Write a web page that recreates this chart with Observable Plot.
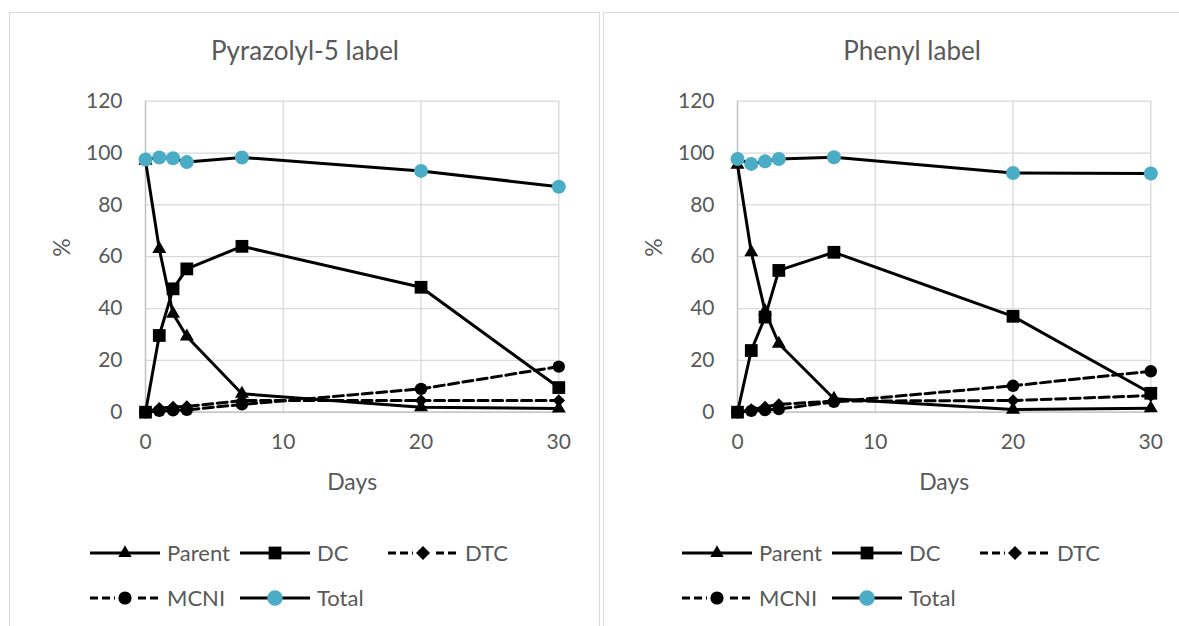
<!DOCTYPE html>
<html>
<head>
<meta charset="utf-8">
<script src="https://cdn.jsdelivr.net/npm/d3@7"></script>
<script src="https://cdn.jsdelivr.net/npm/@observablehq/plot@0.6"></script>
<style>
  html, body { margin: 0; padding: 0; background: #fff; }
  body { width: 1179px; height: 626px; position: relative; overflow: hidden; font-family: Lato, "Open Sans", sans-serif; color: #595959; }
  .panel { position: absolute; top: 12px; height: 700px; border: 1px solid #d9d9d9; box-sizing: border-box; }
  .title { position: absolute; top: 33px; font-size: 26px; line-height: 34px; white-space: nowrap; transform: translateX(-50%); color: #595959; }
  .plot { position: absolute; top: 80px; }
  .leg { position: absolute; display: flex; align-items: center; font-size: 22px; line-height: 24px; color: #595959; }
  .leg svg { display: block; margin-right: 7px; overflow: visible; }
</style>
</head>
<body>
<script>
// ---- data ----
const days = [0, 1, 2, 3, 7, 20, 30];
const seriesNames = ["Parent", "DC", "DTC", "MCNI", "Total"];
const xTicks = [0, 10, 20, 30];
const yTicks = [0, 20, 40, 60, 80, 100, 120];

const pyrParent = [97, 63, 38, 29.2, 7.1, 1.9, 1.4];
const pyrDC     = [0, 29.6, 47.6, 55.3, 64.0, 48.2, 9.5];
const pyrDTC    = [0, 1.5, 2.0, 2.2, 4.5, 4.5, 4.5];
const pyrMCNI   = [0, 0.5, 0.7, 0.9, 3.0, 9.0, 17.6];
const pyrTotal  = [97.5, 98.3, 98.0, 96.5, 98.3, 93.1, 87.0];

const phParent = [95.5, 61.7, 39, 26.4, 5.2, 1.0, 1.5];
const phDC     = [0, 23.8, 36.7, 54.7, 61.7, 37.0, 7.3];
const phDTC    = [0, 1.0, 2.0, 3.0, 4.3, 4.5, 6.4];
const phMCNI   = [0, 0.5, 0.8, 1.2, 4.0, 10.2, 15.8];
const phTotal  = [97.7, 95.8, 96.8, 97.7, 98.4, 92.3, 92.1];

const panels = [
  {title: "Pyrazolyl-5 label", titleX: 305, left: 0, values: [pyrParent, pyrDC, pyrDTC, pyrMCNI, pyrTotal]},
  {title: "Phenyl label", titleX: 912, left: 592, values: [phParent, phDC, phDTC, phMCNI, phTotal]}
];

// ---- styles ----
const totalColor = "#4bacc6";
const diamond = {
  draw(context, size) {
    const h = Math.sqrt(size / 2);
    context.moveTo(0, -h); context.lineTo(h, 0); context.lineTo(0, h); context.lineTo(-h, 0); context.closePath();
  }
};
const seriesStyle = {
  Parent: {dash: null, symbol: "triangle", r: 5.2, fill: "#000"},
  DC:     {dash: null, symbol: "square", r: 7.2, fill: "#000"},
  DTC:    {dash: "10,4.5", symbol: diamond, r: 5.0, fill: "#000"},
  MCNI:   {dash: "10,4.5", symbol: "circle", r: 6.2, fill: "#000"},
  Total:  {dash: null, symbol: "circle", r: 7.0, fill: totalColor}
};

// panel borders
[[9, 591], [603, 700]].forEach(([l, w]) => {
  const d = document.createElement("div");
  d.className = "panel"; d.style.left = l + "px"; d.style.width = w + "px";
  document.body.appendChild(d);
});

panels.forEach(p => {
  const t = document.createElement("div");
  t.className = "title"; t.style.left = p.titleX + "px"; t.textContent = p.title;
  document.body.appendChild(t);

  const rows = [];
  seriesNames.forEach((s, i) => days.forEach((d, j) => rows.push({series: s, day: d, value: p.values[i][j]})));

  const marks = [
    Plot.gridX(xTicks, {stroke: "#d9d9d9", strokeOpacity: 1, strokeWidth: 1.3}),
    Plot.gridY(yTicks, {stroke: "#d9d9d9", strokeOpacity: 1, strokeWidth: 1.3}),
    Plot.ruleY([0], {stroke: "#bfbfbf", strokeWidth: 1.3}),
    Plot.ruleX([0], {stroke: "#bfbfbf", strokeWidth: 1.3}),
    Plot.axisX({ticks: xTicks, tickSize: 0, tickPadding: 22, label: null, fontSize: 21}),
    Plot.axisY({ticks: yTicks, tickSize: 0, tickPadding: 23, label: null, fontSize: 21}),
    Plot.text(["%"], {text: d => d, frameAnchor: "left", dx: -83, rotate: -90, fontSize: 23, fill: "#595959"}),
    Plot.text(["Days"], {text: d => d, frameAnchor: "bottom", dy: 78, fontSize: 23, fill: "#595959"})
  ];
  seriesNames.forEach(s => {
    const st = seriesStyle[s];
    const sub = rows.filter(r => r.series === s);
    marks.push(Plot.line(sub, {x: "day", y: "value", stroke: "#000", strokeWidth: 3, strokeDasharray: st.dash, strokeLinejoin: "round"}));
    marks.push(Plot.dot(sub, {x: "day", y: "value", symbol: st.symbol, r: st.r, fill: st.fill, stroke: "none"}));
  });

  const chart = Plot.plot({
    width: 600, height: 420,
    marginLeft: 145, marginRight: 41.7, marginTop: 20.7, marginBottom: 88.3,
    x: {domain: [0, 30]},
    y: {domain: [0, 120]},
    style: {fontFamily: "Lato, 'Open Sans', sans-serif", fontSize: "21px", color: "#595959", background: "transparent", overflow: "visible"},
    marks
  });
  chart.classList.add("plot");
  chart.style.left = p.left + "px";
  document.body.appendChild(chart);

  // legend
  const legPos = [
    {s: "Parent", x: 90, y: 553}, {s: "DC", x: 240, y: 553}, {s: "DTC", x: 388, y: 553},
    {s: "MCNI", x: 90, y: 598}, {s: "Total", x: 240, y: 598}
  ];
  const legR = {Parent: 5.0, DC: 7.2, DTC: 5.6, MCNI: 6.6, Total: 7.8};
  legPos.forEach(L => {
    const st = seriesStyle[L.s];
    const item = document.createElement("div");
    item.className = "leg";
    item.style.left = (p.left + L.x) + "px";
    item.style.top = (L.y - 12) + "px";
    const ns = "http://www.w3.org/2000/svg";
    const svg = document.createElementNS(ns, "svg");
    svg.setAttribute("width", 70); svg.setAttribute("height", 24);
    const line = document.createElementNS(ns, "line");
    line.setAttribute("x1", 0); line.setAttribute("x2", 70); line.setAttribute("y1", 12); line.setAttribute("y2", 12);
    line.setAttribute("stroke", "#000"); line.setAttribute("stroke-width", 3);
    if (st.dash) line.setAttribute("stroke-dasharray", "8,4");
    svg.appendChild(line);
    const sym = typeof st.symbol === "string" ? {triangle: d3.symbolTriangle, square: d3.symbolSquare, circle: d3.symbolCircle}[st.symbol] : st.symbol;
    if (st.dash) {
      const bg = document.createElementNS(ns, "rect");
      bg.setAttribute("x", 25); bg.setAttribute("y", 4); bg.setAttribute("width", 20); bg.setAttribute("height", 16); bg.setAttribute("fill", "#fff");
      svg.appendChild(bg);
    }
    const path = document.createElementNS(ns, "path");
    const r = legR[L.s];
    path.setAttribute("d", d3.symbol(sym, Math.PI * r * r)());
    path.setAttribute("transform", "translate(35,12)");
    path.setAttribute("fill", st.fill);
    svg.appendChild(path);
    item.appendChild(svg);
    const tx = document.createElement("span");
    tx.textContent = L.s;
    item.appendChild(tx);
    document.body.appendChild(item);
  });
});
</script>
</body>
</html>
